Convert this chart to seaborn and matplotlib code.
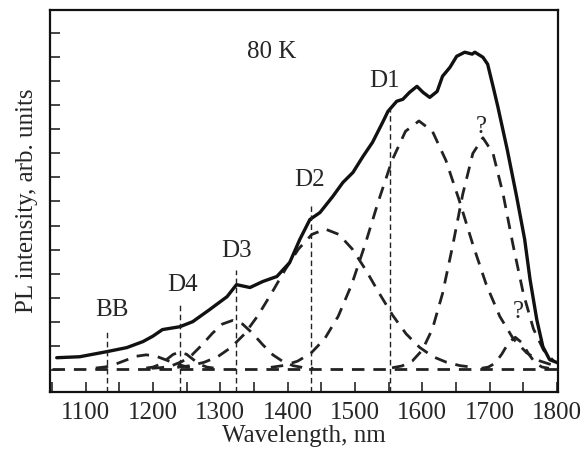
import matplotlib
matplotlib.use("Agg")
import matplotlib.pyplot as plt
import seaborn as sns
import pandas as pd

# ---- data ----
pl_wl = [1057, 1091, 1131, 1161, 1185, 1200, 1214, 1240, 1259, 1284, 1310, 1324, 1344,
         1363, 1384, 1403, 1418, 1433, 1448, 1467, 1482, 1497, 1512, 1526, 1541, 1549,
         1562, 1571, 1581, 1592, 1601, 1611, 1622, 1630, 1641, 1651, 1663, 1674, 1678,
         1690, 1697, 1705, 1712, 1726, 1740, 1752, 1760, 1770, 1779, 1789, 1801]
pl_int = [0.50, 0.54, 0.75, 0.92, 1.17, 1.40, 1.67, 1.79, 2.00, 2.50, 3.04, 3.54, 3.42,
          3.67, 3.88, 4.46, 5.42, 6.25, 6.54, 7.21, 7.79, 8.21, 8.88, 9.46, 10.29, 10.75,
          11.17, 11.25, 11.54, 11.79, 11.54, 11.33, 11.58, 12.21, 12.58, 13.04, 13.21, 13.13, 13.21,
          13.00, 12.71, 11.79, 10.96, 9.17, 7.21, 5.42, 3.75, 2.08, 0.96, 0.42, 0.29]

base_wl = [1050, 1800]
base_int = [0.05, 0.05]

bb_wl = [1115, 1130, 1145, 1160, 1175, 1190, 1205, 1220, 1235, 1250, 1265]
bb_int = [0.07, 0.12, 0.24, 0.40, 0.56, 0.62, 0.56, 0.40, 0.24, 0.12, 0.07]

d4_wl = [1190, 1200, 1210, 1220, 1230, 1240, 1250, 1260, 1270, 1280, 1290]
d4_int = [0.07, 0.11, 0.22, 0.42, 0.64, 0.73, 0.64, 0.42, 0.22, 0.11, 0.07]

d3_wl = [1198, 1213, 1228, 1243, 1258, 1273, 1288, 1303, 1318, 1333, 1348, 1363, 1378,
         1393, 1408, 1423, 1438]
d3_int = [0.06, 0.09, 0.17, 0.34, 0.62, 1.04, 1.51, 1.90, 2.05, 1.90, 1.51, 1.04, 0.62,
          0.34, 0.17, 0.09, 0.06]

d2_wl = [1236, 1256, 1276, 1296, 1316, 1336, 1356, 1376, 1396, 1416, 1436, 1456, 1476,
         1496, 1516, 1536, 1556, 1576, 1596, 1616, 1636, 1656, 1676]
d2_int = [0.10, 0.17, 0.31, 0.54, 0.93, 1.49, 2.26, 3.18, 4.15, 5.02, 5.63, 5.85, 5.63,
          5.02, 4.15, 3.18, 2.26, 1.49, 0.93, 0.54, 0.31, 0.17, 0.10]

d1_wl = [1375, 1395, 1415, 1435, 1455, 1475, 1495, 1515, 1535, 1555, 1575, 1595, 1615,
         1635, 1655, 1675, 1695, 1715, 1735, 1755, 1775, 1795]
d1_int = [0.10, 0.18, 0.36, 0.70, 1.29, 2.22, 3.54, 5.21, 7.03, 8.71, 9.92, 10.35, 9.92,
          8.71, 7.03, 5.21, 3.54, 2.22, 1.29, 0.70, 0.36, 0.18]

q1_wl = [1555, 1570, 1585, 1600, 1615, 1630, 1645, 1660, 1675, 1690, 1705, 1720, 1735,
         1750, 1765, 1780, 1795]
q1_int = [0.08, 0.16, 0.36, 0.82, 1.70, 3.17, 5.15, 7.30, 9.00, 9.65, 9.00, 7.30, 5.15,
          3.17, 1.70, 0.82, 0.36]

q2_wl = [1688, 1698, 1708, 1718, 1728, 1738, 1748, 1758, 1768, 1778, 1788]
q2_int = [0.06, 0.11, 0.27, 0.65, 1.12, 1.35, 1.12, 0.65, 0.27, 0.11, 0.06]

marker_names = ["BB", "D4", "D3", "D2", "D1"]
marker_wl = [1131, 1240, 1323, 1434, 1552]
marker_top = [1.67, 2.8, 4.17, 6.8, 10.83]
label_x = [1139, 1244, 1324, 1433, 1544]
label_y = [2.5, 3.54, 4.92, 7.9, 12.0]

# ---- plot ----
sns.set_style("ticks")
plt.rcParams['font.family'] = ['Liberation Serif', 'DejaVu Serif']
plt.rcParams['mathtext.fontset'] = 'stix'

fig = plt.figure(figsize=(5.88, 4.61), dpi=100)
ax = fig.add_axes([0.085, 0.150, 0.864, 0.828])

ymin, ymax = -0.92, 14.96

dash = (0, (4.5, 3.2))
comp_lw = 2.0
for wl, it in [(base_wl, base_int), (bb_wl, bb_int), (d4_wl, d4_int), (d3_wl, d3_int),
               (d2_wl, d2_int), (d1_wl, d1_int), (q1_wl, q1_int), (q2_wl, q2_int)]:
    df = pd.DataFrame({"wl": wl, "I": it})
    sns.lineplot(data=df, x="wl", y="I", ax=ax, color="#222222", lw=comp_lw,
                 linestyle=dash, sort=False, estimator=None)

df_pl = pd.DataFrame({"wl": pl_wl, "I": pl_int})
sns.lineplot(data=df_pl, x="wl", y="I", ax=ax, color="#111111", lw=2.4,
             sort=False, estimator=None)

for wl, top in zip(marker_wl, marker_top):
    ax.plot([wl, wl], [ymin, top], color="#222222", lw=1.0, linestyle=(0, (4, 2.5)))

fs = 18
for name, x, y in zip(marker_names, label_x, label_y):
    ax.text(x, y, name, ha="center", va="center", fontsize=fs)
ax.text(1376, 13.2, "80 K", ha="center", va="center", fontsize=fs)
ax.text(1688, 10.1, "?", ha="center", va="center", fontsize=fs)
ax.text(1742, 2.4, "?", ha="center", va="center", fontsize=fs)

ax.set_xlim(1047, 1801.5)
ax.set_ylim(ymin, ymax)
ax.set_xticks([1100, 1200, 1300, 1400, 1500, 1600, 1700, 1800])
ax.set_xticks([1050, 1150, 1250, 1350, 1450, 1550, 1650, 1750], minor=True)
ax.set_yticks(list(range(0, 15)))
ax.set_yticklabels([])
ax.tick_params(axis="both", which="both", direction="in", length=7, width=1.2,
               top=False, right=False)
ax.tick_params(axis="x", labelsize=fs, pad=7)
for s in ax.spines.values():
    s.set_linewidth(1.6)
    s.set_color("#111111")

ax.set_xlabel("Wavelength, nm", fontsize=fs, labelpad=1)
ax.set_ylabel("PL intensity, arb. units", fontsize=fs, labelpad=5)

fig.savefig("out.png", dpi=100)
